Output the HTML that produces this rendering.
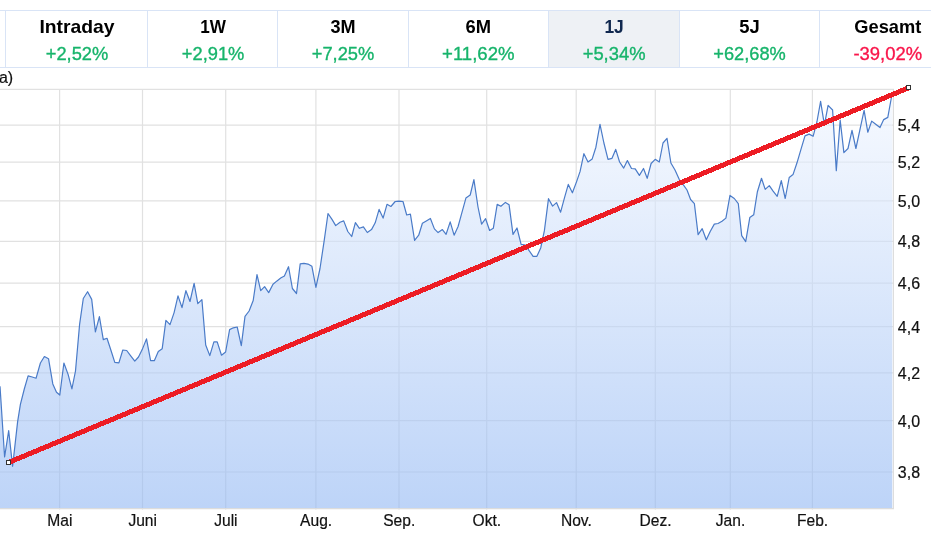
<!DOCTYPE html>
<html lang="de"><head><meta charset="utf-8"><title>Chart</title>
<style>html,body{margin:0;padding:0;background:#fff;overflow:hidden}body{width:931px;height:540px;position:relative;font-family:"Liberation Sans",Arial,sans-serif}</style></head>
<body>
<svg width="931" height="540" viewBox="0 0 931 540" style="position:absolute;left:0;top:0">
<defs><linearGradient id="g" x1="0" y1="89" x2="0" y2="508.5" gradientUnits="userSpaceOnUse"><stop offset="0" stop-color="#f2f7ff" stop-opacity="0.6"/><stop offset="1" stop-color="#91b7f3" stop-opacity="0.6"/></linearGradient></defs>
<rect x="548.5" y="10.5" width="131" height="57" fill="#eef1f5"/>
<g stroke="#d9e4f6" stroke-width="1" shape-rendering="crispEdges">
<line x1="0" y1="10.5" x2="931" y2="10.5"/><line x1="0" y1="67.5" x2="931" y2="67.5"/>
<line x1="5.5" y1="10" x2="5.5" y2="68"/>
<line x1="147.5" y1="10" x2="147.5" y2="68"/>
<line x1="277.5" y1="10" x2="277.5" y2="68"/>
<line x1="408.5" y1="10" x2="408.5" y2="68"/>
<line x1="548.5" y1="10" x2="548.5" y2="68"/>
<line x1="679.5" y1="10" x2="679.5" y2="68"/>
<line x1="819.5" y1="10" x2="819.5" y2="68"/>
</g>
<text x="77.0" y="33.2" text-anchor="middle" font-family="Liberation Sans, Arial, sans-serif" font-weight="bold" font-size="19" fill="#000" textLength="75.2" lengthAdjust="spacingAndGlyphs">Intraday</text>
<text x="77.0" y="59.6" text-anchor="middle" font-family="Liberation Sans, Arial, sans-serif" font-size="19" fill="#17b46b" stroke="#17b46b" stroke-width="0.35" textLength="62.6" lengthAdjust="spacingAndGlyphs">+2,52%</text>
<text x="213.1" y="33.2" text-anchor="middle" font-family="Liberation Sans, Arial, sans-serif" font-weight="bold" font-size="19" fill="#000" textLength="25.7" lengthAdjust="spacingAndGlyphs">1W</text>
<text x="213.1" y="59.6" text-anchor="middle" font-family="Liberation Sans, Arial, sans-serif" font-size="19" fill="#17b46b" stroke="#17b46b" stroke-width="0.35" textLength="62.6" lengthAdjust="spacingAndGlyphs">+2,91%</text>
<text x="343.0" y="33.2" text-anchor="middle" font-family="Liberation Sans, Arial, sans-serif" font-weight="bold" font-size="19" fill="#000" textLength="25.1" lengthAdjust="spacingAndGlyphs">3M</text>
<text x="343.0" y="59.6" text-anchor="middle" font-family="Liberation Sans, Arial, sans-serif" font-size="19" fill="#17b46b" stroke="#17b46b" stroke-width="0.35" textLength="62.6" lengthAdjust="spacingAndGlyphs">+7,25%</text>
<text x="478.3" y="33.2" text-anchor="middle" font-family="Liberation Sans, Arial, sans-serif" font-weight="bold" font-size="19" fill="#000" textLength="25.5" lengthAdjust="spacingAndGlyphs">6M</text>
<text x="478.3" y="59.6" text-anchor="middle" font-family="Liberation Sans, Arial, sans-serif" font-size="19" fill="#17b46b" stroke="#17b46b" stroke-width="0.35" textLength="72.5" lengthAdjust="spacingAndGlyphs">+11,62%</text>
<text x="614.1" y="33.2" text-anchor="middle" font-family="Liberation Sans, Arial, sans-serif" font-weight="bold" font-size="19" fill="#10284f" textLength="19.4" lengthAdjust="spacingAndGlyphs">1J</text>
<text x="614.1" y="59.6" text-anchor="middle" font-family="Liberation Sans, Arial, sans-serif" font-size="19" fill="#17b46b" stroke="#17b46b" stroke-width="0.35" textLength="62.8" lengthAdjust="spacingAndGlyphs">+5,34%</text>
<text x="749.5" y="33.2" text-anchor="middle" font-family="Liberation Sans, Arial, sans-serif" font-weight="bold" font-size="19" fill="#000" textLength="20.5" lengthAdjust="spacingAndGlyphs">5J</text>
<text x="749.5" y="59.6" text-anchor="middle" font-family="Liberation Sans, Arial, sans-serif" font-size="19" fill="#17b46b" stroke="#17b46b" stroke-width="0.35" textLength="72.5" lengthAdjust="spacingAndGlyphs">+62,68%</text>
<text x="887.8" y="33.2" text-anchor="middle" font-family="Liberation Sans, Arial, sans-serif" font-weight="bold" font-size="19" fill="#000" textLength="67.0" lengthAdjust="spacingAndGlyphs">Gesamt</text>
<text x="887.8" y="59.6" text-anchor="middle" font-family="Liberation Sans, Arial, sans-serif" font-size="19" fill="#f9154a" stroke="#f9154a" stroke-width="0.35" textLength="68.7" lengthAdjust="spacingAndGlyphs">-39,02%</text>
<text x="-1.1" y="82.9" font-family="Liberation Sans, Arial, sans-serif" font-size="16" fill="#111" stroke="#111" stroke-width="0.2">a)</text>
<g stroke="#e1e1e1" stroke-width="1.2">
<line x1="0" y1="89.4" x2="894" y2="89.4"/>
<line x1="0" y1="125.1" x2="894" y2="125.1"/>
<line x1="0" y1="162.2" x2="894" y2="162.2"/>
<line x1="0" y1="200.8" x2="894" y2="200.8"/>
<line x1="0" y1="241.4" x2="894" y2="241.4"/>
<line x1="0" y1="283.1" x2="894" y2="283.1"/>
<line x1="0" y1="326.6" x2="894" y2="326.6"/>
<line x1="0" y1="372.8" x2="894" y2="372.8"/>
<line x1="0" y1="420.6" x2="894" y2="420.6"/>
<line x1="0" y1="472.0" x2="894" y2="472.0"/>
<line x1="59.6" y1="89" x2="59.6" y2="509.6"/>
<line x1="142.5" y1="89" x2="142.5" y2="509.6"/>
<line x1="225.7" y1="89" x2="225.7" y2="509.6"/>
<line x1="315.9" y1="89" x2="315.9" y2="509.6"/>
<line x1="399.0" y1="89" x2="399.0" y2="509.6"/>
<line x1="486.7" y1="89" x2="486.7" y2="509.6"/>
<line x1="576.2" y1="89" x2="576.2" y2="509.6"/>
<line x1="655.3" y1="89" x2="655.3" y2="509.6"/>
<line x1="730.3" y1="89" x2="730.3" y2="509.6"/>
<line x1="812.4" y1="89" x2="812.4" y2="509.6"/>
</g>
<polygon points="0.0,508.2 0.0,386.3 4.6,457.0 8.7,430.7 12.6,466.3 17.6,421.9 20.4,404.3 24.3,389.0 28.1,375.9 32.2,377.0 36.1,378.2 40.4,363.0 44.4,356.5 48.5,358.7 52.8,383.9 56.5,392.2 59.8,395.0 63.9,363.0 68.1,374.4 71.9,388.9 75.5,371.0 79.6,324.4 83.3,298.5 87.6,291.7 91.7,299.4 95.4,331.9 99.4,316.7 103.3,339.6 107.0,338.3 111.0,350.5 114.8,362.4 118.9,362.8 122.8,350.0 126.7,350.5 130.7,355.8 134.8,361.1 138.5,357.0 142.2,349.6 146.5,338.9 150.6,360.7 154.3,360.7 158.3,351.5 162.2,348.7 165.9,320.4 170.0,324.6 174.1,312.6 178.0,295.9 182.0,307.6 185.9,290.7 190.0,301.5 194.1,283.3 197.8,303.7 201.9,299.6 205.7,345.0 209.8,355.6 213.9,341.9 217.2,341.9 221.5,355.2 225.6,352.0 229.6,329.6 233.3,327.8 237.2,327.0 241.3,345.6 245.0,316.3 249.1,311.0 253.2,300.5 257.0,274.6 260.7,290.7 264.6,286.7 268.7,292.6 273.0,284.3 277.0,280.9 280.7,278.1 284.4,275.9 288.5,266.7 292.4,288.5 296.5,293.5 300.2,263.9 303.9,263.3 308.0,264.1 311.9,266.3 315.9,287.4 320.0,268.5 324.3,239.8 328.0,213.5 332.0,219.4 335.7,225.6 340.0,222.2 343.7,220.9 347.8,231.5 351.7,236.5 355.4,222.6 359.4,228.3 363.4,226.9 367.3,232.5 371.5,229.6 375.2,222.8 379.1,209.4 383.1,218.1 387.0,204.3 390.9,206.5 395.2,201.5 398.9,201.1 403.0,201.5 406.7,215.0 410.4,214.1 414.6,240.4 418.7,235.2 422.4,223.3 426.3,220.9 430.4,218.5 434.4,228.9 438.1,232.6 442.4,229.6 446.1,234.3 450.2,221.9 454.1,235.2 458.1,226.5 461.9,212.6 465.9,198.1 470.2,195.0 473.9,179.6 478.0,207.0 481.6,224.2 485.6,218.7 489.6,230.5 493.3,228.3 497.2,204.4 500.9,206.3 505.4,202.4 509.1,204.8 513.0,234.4 517.0,228.0 521.1,244.3 525.4,245.0 529.1,250.7 533.1,256.3 536.9,256.3 540.7,248.0 544.4,230.7 548.5,198.7 552.6,206.1 556.5,202.6 560.6,212.2 564.6,197.4 568.3,184.4 572.4,192.8 576.6,181.6 580.1,171.4 583.9,153.7 588.0,162.0 592.2,158.9 595.9,147.2 600.0,124.4 603.9,143.0 608.0,159.3 612.0,158.3 615.7,149.4 619.6,162.0 623.7,168.1 627.4,160.6 631.5,168.5 635.2,168.9 639.4,175.4 643.5,168.5 647.2,178.3 651.1,163.5 655.2,159.3 659.3,162.0 663.0,143.0 667.0,138.3 670.9,163.0 675.0,170.0 679.3,179.6 683.0,184.3 687.0,190.0 690.6,199.5 694.4,203.7 698.1,234.6 702.2,228.7 706.3,239.8 710.2,231.5 714.3,224.1 718.0,223.5 722.0,221.3 725.9,218.1 730.0,195.4 734.3,198.5 738.3,203.7 741.7,235.6 745.7,241.7 749.8,217.6 753.7,214.8 757.4,191.7 761.5,178.3 765.2,189.4 769.3,185.6 773.1,191.1 777.2,196.3 781.3,180.6 785.2,198.5 789.2,177.5 793.0,174.6 797.0,162.8 801.1,148.9 805.0,135.9 809.1,134.1 813.1,136.3 816.9,122.0 820.6,101.3 824.4,124.8 828.1,105.4 832.6,110.0 836.3,170.6 840.2,120.2 843.9,152.6 848.0,148.5 852.0,130.4 855.9,148.5 860.0,129.4 864.1,110.4 867.8,132.2 871.7,121.1 875.7,124.3 880.0,127.6 883.7,119.6 887.8,117.4 891.5,97.0 892.3,93.0 892.3,508.2" fill="url(#g)"/>
<polyline points="0.0,386.3 4.6,457.0 8.7,430.7 12.6,466.3 17.6,421.9 20.4,404.3 24.3,389.0 28.1,375.9 32.2,377.0 36.1,378.2 40.4,363.0 44.4,356.5 48.5,358.7 52.8,383.9 56.5,392.2 59.8,395.0 63.9,363.0 68.1,374.4 71.9,388.9 75.5,371.0 79.6,324.4 83.3,298.5 87.6,291.7 91.7,299.4 95.4,331.9 99.4,316.7 103.3,339.6 107.0,338.3 111.0,350.5 114.8,362.4 118.9,362.8 122.8,350.0 126.7,350.5 130.7,355.8 134.8,361.1 138.5,357.0 142.2,349.6 146.5,338.9 150.6,360.7 154.3,360.7 158.3,351.5 162.2,348.7 165.9,320.4 170.0,324.6 174.1,312.6 178.0,295.9 182.0,307.6 185.9,290.7 190.0,301.5 194.1,283.3 197.8,303.7 201.9,299.6 205.7,345.0 209.8,355.6 213.9,341.9 217.2,341.9 221.5,355.2 225.6,352.0 229.6,329.6 233.3,327.8 237.2,327.0 241.3,345.6 245.0,316.3 249.1,311.0 253.2,300.5 257.0,274.6 260.7,290.7 264.6,286.7 268.7,292.6 273.0,284.3 277.0,280.9 280.7,278.1 284.4,275.9 288.5,266.7 292.4,288.5 296.5,293.5 300.2,263.9 303.9,263.3 308.0,264.1 311.9,266.3 315.9,287.4 320.0,268.5 324.3,239.8 328.0,213.5 332.0,219.4 335.7,225.6 340.0,222.2 343.7,220.9 347.8,231.5 351.7,236.5 355.4,222.6 359.4,228.3 363.4,226.9 367.3,232.5 371.5,229.6 375.2,222.8 379.1,209.4 383.1,218.1 387.0,204.3 390.9,206.5 395.2,201.5 398.9,201.1 403.0,201.5 406.7,215.0 410.4,214.1 414.6,240.4 418.7,235.2 422.4,223.3 426.3,220.9 430.4,218.5 434.4,228.9 438.1,232.6 442.4,229.6 446.1,234.3 450.2,221.9 454.1,235.2 458.1,226.5 461.9,212.6 465.9,198.1 470.2,195.0 473.9,179.6 478.0,207.0 481.6,224.2 485.6,218.7 489.6,230.5 493.3,228.3 497.2,204.4 500.9,206.3 505.4,202.4 509.1,204.8 513.0,234.4 517.0,228.0 521.1,244.3 525.4,245.0 529.1,250.7 533.1,256.3 536.9,256.3 540.7,248.0 544.4,230.7 548.5,198.7 552.6,206.1 556.5,202.6 560.6,212.2 564.6,197.4 568.3,184.4 572.4,192.8 576.6,181.6 580.1,171.4 583.9,153.7 588.0,162.0 592.2,158.9 595.9,147.2 600.0,124.4 603.9,143.0 608.0,159.3 612.0,158.3 615.7,149.4 619.6,162.0 623.7,168.1 627.4,160.6 631.5,168.5 635.2,168.9 639.4,175.4 643.5,168.5 647.2,178.3 651.1,163.5 655.2,159.3 659.3,162.0 663.0,143.0 667.0,138.3 670.9,163.0 675.0,170.0 679.3,179.6 683.0,184.3 687.0,190.0 690.6,199.5 694.4,203.7 698.1,234.6 702.2,228.7 706.3,239.8 710.2,231.5 714.3,224.1 718.0,223.5 722.0,221.3 725.9,218.1 730.0,195.4 734.3,198.5 738.3,203.7 741.7,235.6 745.7,241.7 749.8,217.6 753.7,214.8 757.4,191.7 761.5,178.3 765.2,189.4 769.3,185.6 773.1,191.1 777.2,196.3 781.3,180.6 785.2,198.5 789.2,177.5 793.0,174.6 797.0,162.8 801.1,148.9 805.0,135.9 809.1,134.1 813.1,136.3 816.9,122.0 820.6,101.3 824.4,124.8 828.1,105.4 832.6,110.0 836.3,170.6 840.2,120.2 843.9,152.6 848.0,148.5 852.0,130.4 855.9,148.5 860.0,129.4 864.1,110.4 867.8,132.2 871.7,121.1 875.7,124.3 880.0,127.6 883.7,119.6 887.8,117.4 891.5,97.0" fill="none" stroke="#4a7bc8" stroke-width="1.2" stroke-linejoin="round"/>
<g stroke="#dcdcdc" stroke-width="1.1"><line x1="0" y1="508.6" x2="894" y2="508.6"/><line x1="893.4" y1="89" x2="893.4" y2="509"/></g>
<line x1="8.3" y1="462.6" x2="908.6" y2="87.8" stroke="#ed1c24" stroke-width="5.0" shape-rendering="crispEdges"/>
<rect x="6.5" y="460.5" width="4" height="4" fill="#fff" stroke="#333" stroke-width="1" shape-rendering="crispEdges"/>
<rect x="906.5" y="85.5" width="4" height="4" fill="#fff" stroke="#333" stroke-width="1" shape-rendering="crispEdges"/>
<text transform="translate(897.8,131.0) scale(1,1.07)" font-family="Liberation Sans, Arial, sans-serif" font-size="16" fill="#111" stroke="#111" stroke-width="0.2">5,4</text>
<text transform="translate(897.8,168.1) scale(1,1.07)" font-family="Liberation Sans, Arial, sans-serif" font-size="16" fill="#111" stroke="#111" stroke-width="0.2">5,2</text>
<text transform="translate(897.8,206.7) scale(1,1.07)" font-family="Liberation Sans, Arial, sans-serif" font-size="16" fill="#111" stroke="#111" stroke-width="0.2">5,0</text>
<text transform="translate(897.8,247.3) scale(1,1.07)" font-family="Liberation Sans, Arial, sans-serif" font-size="16" fill="#111" stroke="#111" stroke-width="0.2">4,8</text>
<text transform="translate(897.8,289.0) scale(1,1.07)" font-family="Liberation Sans, Arial, sans-serif" font-size="16" fill="#111" stroke="#111" stroke-width="0.2">4,6</text>
<text transform="translate(897.8,332.5) scale(1,1.07)" font-family="Liberation Sans, Arial, sans-serif" font-size="16" fill="#111" stroke="#111" stroke-width="0.2">4,4</text>
<text transform="translate(897.8,378.7) scale(1,1.07)" font-family="Liberation Sans, Arial, sans-serif" font-size="16" fill="#111" stroke="#111" stroke-width="0.2">4,2</text>
<text transform="translate(897.8,426.5) scale(1,1.07)" font-family="Liberation Sans, Arial, sans-serif" font-size="16" fill="#111" stroke="#111" stroke-width="0.2">4,0</text>
<text transform="translate(897.8,477.9) scale(1,1.07)" font-family="Liberation Sans, Arial, sans-serif" font-size="16" fill="#111" stroke="#111" stroke-width="0.2">3,8</text>
<text transform="translate(59.8,526.0) scale(0.975,1.07)" text-anchor="middle" font-family="Liberation Sans, Arial, sans-serif" font-size="16" fill="#111" stroke="#111" stroke-width="0.2">Mai</text>
<text transform="translate(142.7,526.0) scale(0.975,1.07)" text-anchor="middle" font-family="Liberation Sans, Arial, sans-serif" font-size="16" fill="#111" stroke="#111" stroke-width="0.2">Juni</text>
<text transform="translate(225.9,526.0) scale(0.975,1.07)" text-anchor="middle" font-family="Liberation Sans, Arial, sans-serif" font-size="16" fill="#111" stroke="#111" stroke-width="0.2">Juli</text>
<text transform="translate(316.1,526.0) scale(0.975,1.07)" text-anchor="middle" font-family="Liberation Sans, Arial, sans-serif" font-size="16" fill="#111" stroke="#111" stroke-width="0.2">Aug.</text>
<text transform="translate(399.2,526.0) scale(0.975,1.07)" text-anchor="middle" font-family="Liberation Sans, Arial, sans-serif" font-size="16" fill="#111" stroke="#111" stroke-width="0.2">Sep.</text>
<text transform="translate(486.9,526.0) scale(0.975,1.07)" text-anchor="middle" font-family="Liberation Sans, Arial, sans-serif" font-size="16" fill="#111" stroke="#111" stroke-width="0.2">Okt.</text>
<text transform="translate(576.4,526.0) scale(0.975,1.07)" text-anchor="middle" font-family="Liberation Sans, Arial, sans-serif" font-size="16" fill="#111" stroke="#111" stroke-width="0.2">Nov.</text>
<text transform="translate(655.5,526.0) scale(0.975,1.07)" text-anchor="middle" font-family="Liberation Sans, Arial, sans-serif" font-size="16" fill="#111" stroke="#111" stroke-width="0.2">Dez.</text>
<text transform="translate(730.5,526.0) scale(0.975,1.07)" text-anchor="middle" font-family="Liberation Sans, Arial, sans-serif" font-size="16" fill="#111" stroke="#111" stroke-width="0.2">Jan.</text>
<text transform="translate(812.6,526.0) scale(0.975,1.07)" text-anchor="middle" font-family="Liberation Sans, Arial, sans-serif" font-size="16" fill="#111" stroke="#111" stroke-width="0.2">Feb.</text>
</svg>
</body></html>
